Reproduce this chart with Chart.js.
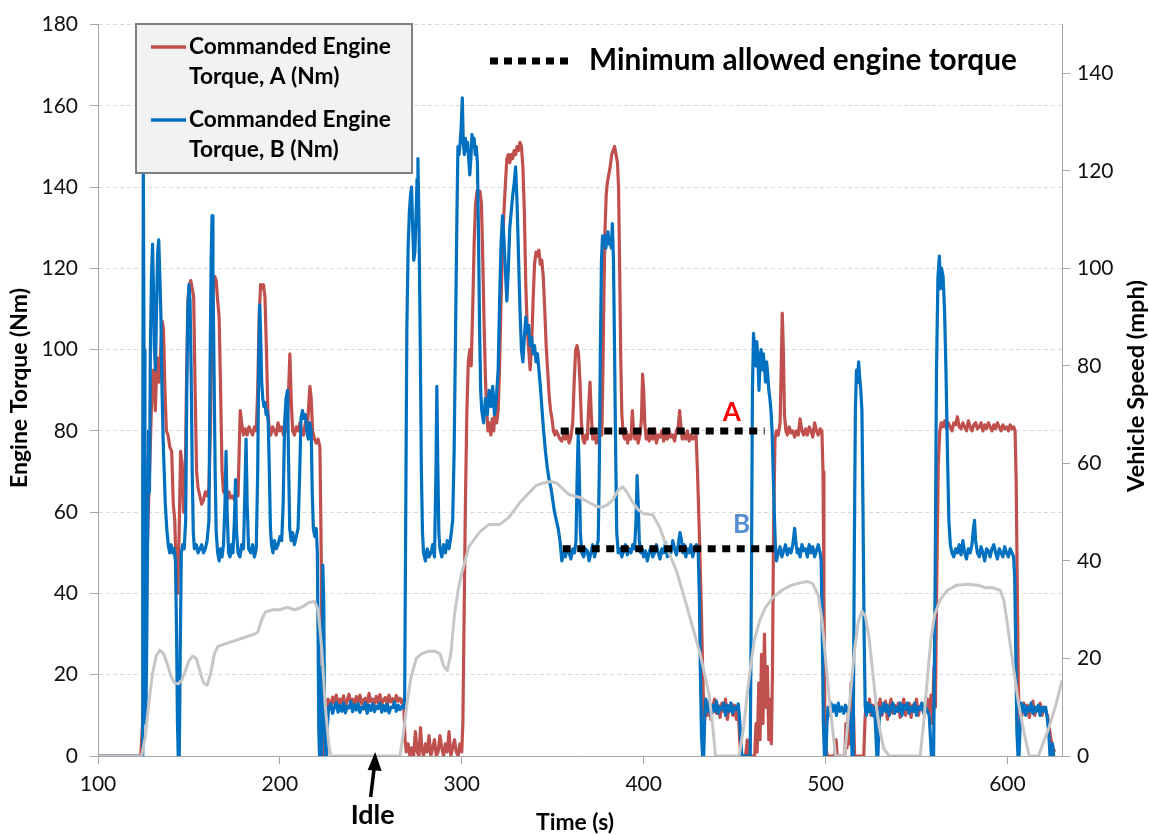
<!DOCTYPE html>
<html>
<head>
<meta charset="utf-8">
<script src="https://cdn.jsdelivr.net/npm/chart.js@4/dist/chart.umd.min.js"></script>
<style>
  html, body { margin: 0; padding: 0; background: #fff; }
  #c { display: block; }
</style>
</head>
<body>
<canvas id="c" width="1149" height="835"></canvas>
<script>
// tick labels
const timeTicks = [100, 200, 300, 400, 500, 600]
const torqueTicks = [0, 20, 40, 60, 80, 100, 120, 140, 160, 180]
const speedTicks = [0, 20, 40, 60, 80, 100, 120, 140]

// Commanded Engine Torque, A (Nm)  [time s, torque]
const torqueA = [[100,0],[123.5,0],[124.5,8],[125.5,25],[126.5,40],[127.5,58],[128.5,72],[129.5,88],[130.5,95],[131.5,85],[132.5,98],[133.5,92],[134.5,100],[135.3,107],[136,105],[136.8,90],[137.6,80],[138.5,79],[139.5,76],[140.5,75],[141.4,62],[142.2,58],[143,45],[143.8,40],[144.6,55],[145.4,75],[146.2,72],[147,60],[147.8,62],[148.6,90],[149.4,112],[150.2,116],[151,117],[151.8,115],[152.6,113],[153.4,90],[154.2,70],[155,66],[156,64],[157,62],[158,63],[159,65],[160,64],[161,66],[161.8,80],[162.6,105],[163.4,116],[164.2,118],[165,117],[165.8,112],[166.6,108],[167.4,90],[168.2,70],[169,65],[170,64.5],[171,63],[172,65],[173,63.5],[174,64],[175,63],[176,65],[177,64],[177.6,75],[178.2,85],[179,82],[180,79],[181,80.5],[182,79],[183,81],[184,80],[185,79],[186,81],[187,80],[187.8,90],[188.6,108],[189.4,116],[190.2,115],[191,116],[191.8,113],[192.6,100],[193.4,85],[194.2,80],[195,79],[196,81],[197,80],[198,79],[199,82],[200,80],[201,81],[202,79],[203,80.5],[204,80],[204.8,90],[205.5,99],[206.2,88],[207,80],[208,79],[209,81],[210,80],[211,82],[212,80],[213,79],[214,82],[215,80],[215.8,86],[216.5,91],[217.2,88],[218,80],[219,78],[220,77],[221,78],[222,76],[222.6,55],[223.2,25],[223.8,5],[224.4,0],[225.2,0],[225.8,8],[226.4,14],
  [227,13.5],[228,12],[229,14.5],[230,13],[231,15],[232,12.5],[233,14],[234,13],[235,14.8],[236,12.2],[237,13.6],[238,15.2],[239,13],[240,14],[241,12.4],[242,14.6],[243,13.2],[244,15],[245,12.8],[246,13.8],[247,14.2],[248,12.6],[249,15.4],[250,13.4],[251,14],[252,12.9],[253,14.7],[254,13.1],[255,15.1],[256,12.7],[257,13.9],[258,14.4],[259,12.5],[260,15],[261,13.3],[262,14.1],[263,12.8],[264,14.9],[265,13.5],[266,14.2],[267,13],[268,14],
  [268.8,4],[269.5,1],[270.5,3],[271.5,0],[272.5,2],[273.5,0],[274.5,6],[275.5,1],[276.5,0],[277.3,7],[278,2],[279,0],[280,3],[281,1],[282,5],[283,0],[284,2],[285,4],[286,0],[287,1],[288,5],[289,2],[290,0],[291,3],[292,1],[293,6],[294,0],[295,2],[296,4],[297,1],[298,0],[299,3],[300,1],
  [300.6,8],[301.3,35],[302,62],[302.8,85],[303.6,97],[304.4,100],[305.2,96],[306,110],[306.8,126],[307.6,136],[308.4,139],[309.2,138],[310,139],[310.8,136],[311.6,121],[312.3,106],[313,93],[313.7,85],[314.4,80],[315.2,82],[316,79],[316.8,83],[317.6,80],[318.4,88],[319.2,82],[320,85],[320.8,96],[321.6,112],[322.4,126],[323.2,134],[324,141],[324.8,147],[325.6,148],[326.4,146],[327.2,148],[328,147],[328.8,149],[329.6,148],[330.4,150],[331.2,149],[332,151],[332.8,150],[333.6,145],[334.4,134],[335.2,116],[336,105],[336.8,100],[337.6,95],[338.4,101],[339.2,112],[340,121],[340.8,124],[341.6,123],[342.4,124.5],[343.2,121],[344,122],[344.8,118],[345.6,110],[346.4,101],[347.2,95],[348,89],[348.8,85],[349.6,83],[350.4,80],[351.2,79],
  [352,80],[353,79],[354,78],[355,77.5],[356,79],[357,78],[358,80],[359,77],[360,78.5],[361,82],[361.8,92],[362.6,100],[363.4,101],[364.2,99],[365,92],[365.8,82],[366.6,78],[367.4,77],[368.2,79],[369,78],[369.8,86],[370.5,92],[371.2,84],[372,78],[373,79.5],[374,77],[375,78.5],[376,80],[377,79],[377.6,95],[378.2,115],[378.8,130],[379.4,138],[380,141],[380.8,143],[381.6,145],[382.4,148],[383.2,149],[384,150],[384.8,148],[385.6,146],[386.2,140],[386.8,120],[387.4,98],[388,84],[388.8,79],[389.6,78],[390.4,80],[391.2,77],[392,79],[393,78],[393.8,85],[394.4,80],[395.2,78],[396,79.5],[397,77],[398,79],[398.8,83],[399.4,94],[400,90],[400.6,82],[401.4,78],[402.2,80],[403,77.5],[404,79],[405,78],[406,80.5],[407,77],[408,79],[409,78.5],[410,80],[411,77.5],[412,79],[413,78],[414,80],[415,78.5],[416,79],[417,77.5],[418,80],[419,81],[419.8,85],[420.5,81],[421.2,78],[422,79.5],[423,78],[424,80],[425,77.5],[426,79],[427,78],[428,78.5],[428.8,79],[429.6,70],[430.6,55],[431.6,38],[432.4,22],[433.2,8],
  [434,12],[435,10],[436,13.5],[437,9],[438,12],[439,14],[440,10.5],[441,12.5],[442,9.5],[443,13],[444,11],[445,14],[446,9],[447,12],[448,13],[449,10],[450,12.5],[451,9],[452,11],[452.8,4],[453.5,0],[456,0],[457,4],[457.6,0],[461,0],[461.8,8],[462.4,1],[463.3,18],[464,4],[464.8,25],[465.6,8],[466.4,30],[467.2,12],[468,22],[468.8,4],[469.6,14],[470.2,3],[470.8,20],[471.4,55],[472.2,78],[473,80],[474,79],[475,82],[475.6,95],[476.2,109],[476.8,100],[477.4,84],[478.2,80],[479,79],[480,81],[481,79.5],[482,80],[483,78.5],[484,80],[485,79],[486,83],[487,80],[488,79],[489,80.5],[490,79],[491,81],[492,80],[493,78.5],[494,82],[495,80],[496,79],[497,80.5],[498,80],[498.6,70],[499.1,40],[499.6,12],[500.2,2],[501,0],[505,0],[505.8,4],[506.4,0],[510.6,0],[511.2,8],[511.8,2],[512.6,12],[513.2,3],[514,18],[514.6,6],[515.4,10],[516,0],[521,0],
  [521.8,10],[522.6,13],[523.4,11],[524.2,14],[525,10],[526,12.5],[527,9.5],[528,13],[529,11],[530,14],[531,10],[532,12],[533,13.5],[534,9],[535,12],[536,14],[537,10.5],[538,12.5],[539,11],[540,13],[541,9.5],[542,12],[543,14],[544,10],[545,12],[546,13],[547,9.5],[548,12.5],[549,11],[550,14],[551,10],[552,12],[553,13],[554,10.5],[555,12],[556,14],[557,11],
  [558,15],[558.8,8],[559.6,22],[560.4,12],[561.2,45],[562,72],[562.8,80],[563.6,82],[564.5,81],[565.5,82.5],[566.5,80.5],[567.5,82],[568.5,81],[569.5,80],[570.5,82],[571.5,81.5],[572.5,83.5],[573.5,81],[574.5,80.5],[575.5,82],[576.5,81],[577.5,80],[578.5,82.5],[579.5,81],[580.5,80],[581.5,81.5],[582.5,82],[583.5,80.5],[584.5,81],[585.5,82],[586.5,80],[587.5,81.5],[588.5,80.5],[589.5,82],[590.5,81],[591.5,80],[592.5,81.5],[593.5,80.5],[594.5,82],[595.5,81],[596.5,80],[597.5,81.5],[598.5,80.5],[599.5,81],[600.5,80],[601.5,81.5],[602.5,80.5],[603.5,81],[604.2,80],[604.8,68],[605.4,42],[606,18],[606.6,6],[607.2,12],[608,10],[609,13],[610,11],[611,12.5],[612,9.5],[613,12],[614,13.5],[615,10],[616,12],[617,11.5],[618,13],[619,10],[620,12],[621,11],[622,10],[623,7],[624,4],[625,2],[626,1]]

// Commanded Engine Torque, B (Nm)  [time s, torque]
const torqueB = [[100,0],[124.2,0],[124.6,70],[124.9,145],[125.3,100],[125.8,35],[126.3,8],[126.8,28],[127.3,55],[127.8,80],[128.3,65],[128.8,100],[129.4,118],[130,126],[130.5,115],[131,100],[131.6,95],[132.2,110],[132.8,124],[133.4,127],[134,118],[134.6,108],[135.2,90],[135.8,78],[136.4,70],[137,62],[137.8,56],[138.6,52],[139.4,50],[140.2,52],[141,50],[141.8,51],[142.6,48],[143.2,30],[143.7,8],[144.1,0],[144.7,0],[145.2,25],[145.8,50],[146.6,52],[147.4,51],[148.2,58],[148.8,90],[149.4,110],[150,116],[150.6,112],[151.2,95],[151.8,70],[152.4,55],[153,51],[154,52],[155,50],[156,51],[157,52],[158,50],[159,51],[160,53],[161,58],[161.6,95],[162.2,122],[162.7,133],[163.2,120],[163.8,95],[164.4,70],[165,55],[165.8,50],[166.6,48],[167.4,51],[168.2,49],[169,52],[169.8,62],[170.4,75],[171,60],[171.8,50],[172.6,49],[173.4,52],[174.2,50],[175,58],[175.6,68],[176.2,55],[177,50],[178,49],[179,52],[180,51],[180.8,66],[181.4,78],[182,62],[182.8,51],[184,50],[185,52],[186,49],[187,51],[187.8,70],[188.4,98],[188.9,111],[189.4,104],[190,92],[190.6,88],[191.2,86],[191.8,87],[192.4,84],[193,85],[193.6,82],[194.2,70],[194.8,56],[195.4,52],[196.2,50],[197,53],[198,51],[199,52],[200,54],[201,53],[201.8,62],[202.6,82],[203.4,88],[204.2,90],[204.8,72],[205.4,56],[206.2,53],[207,55],[208,52],[209,54],[210,56],[210.8,68],[211.6,83],[212.4,85],[213.2,83],[214,84],[214.8,80],[215.6,78],[216.4,82],[217.2,80],[217.8,65],[218.4,56],[219.2,54],[220,56],[220.6,50],[221,30],[221.4,6],[221.8,0],[222.8,0],[223.2,22],[223.6,47],[224.1,38],[224.6,8],[225.1,0],[225.7,0],[226.2,8],[226.8,12],
  [227,11.5],[228,12.8],[229,10.5],[230,12],[231,13.2],[232,10.8],[233,12.4],[234,11],[235,13],[236,10.6],[237,12.2],[238,11.8],[239,13.4],[240,10.9],[241,12.6],[242,11.3],[243,12.9],[244,10.7],[245,12.1],[246,11.6],[247,13.1],[248,10.5],[249,12.5],[250,11.2],[251,12.8],[252,10.9],[253,12.3],[254,11.7],[255,13],[256,10.8],[257,12.4],[258,11.1],[259,12.7],[260,10.6],[261,12],[262,11.9],[263,13.3],[264,11],[265,12.5],[266,11.4],[267,12.2],[268,11.8],
  [268.6,14],[269.2,60],[269.8,105],[270.5,125],[271.2,134],[271.8,138],[272.4,140],[273,130],[273.6,122],[274.2,124],[274.8,132],[275.4,142],[275.9,147],[276.5,130],[277.2,100],[277.8,70],[278.4,55],[279,50],[280,48],[281,51],[282,49],[283,50],[284,52],[285,49],[285.8,70],[286.3,91],[286.8,72],[287.4,55],[288,51],[289,49],[290,52],[291,50],[292,53],[293,51],[294,54],[295,58],[295.8,75],[296.6,105],[297.3,132],[297.9,150],[298.5,148],[299.1,151],[299.7,155],[300.3,162],[300.8,151],[301.4,148],[302,152],[302.6,149],[303.2,151],[303.8,147],[304.4,143],[305,147],[305.6,153],[306.2,150],[306.8,152],[307.4,148],[308,150],[308.6,146],[309.2,128],[309.8,105],[310.4,90],[311,85],[312,82],[313,88],[314,84],[315,90],[316,86],[317,91],[318,84],[319,88],[320,95],[320.8,112],[321.6,126],[322.4,133],[323.2,127],[324,119],[324.8,112],[325.6,120],[326.4,130],[327.2,134],[328,138],[328.8,141],[329.6,145],[330.4,136],[331.2,123],[332,110],[332.8,100],[333.6,97],[334.4,103],[335.2,108],[336,104],[336.8,106],[337.6,101],[338.4,103],[339.2,99],[340,101],[340.8,97],[341.6,99],[342.4,95],[343.2,91],[344,86],[345,80],[346,75],[347,71],[348,68],[349,66],[350,63],[351,60],[352,58],[353,56],[354,53],[355,48],
  [356,50],[357,49],[358,51.5],[359,50],[360,48.5],[361,51],[362,50],[362.8,53],[363.4,68],[364,79],[364.6,70],[365.2,55],[366,50],[367,49],[368,51],[369,50.5],[370,48],[371,50],[372,52],[373,49],[374,51],[375,53],[375.6,70],[376.2,100],[376.8,122],[377.4,128],[378,126],[378.6,128],[379.2,125],[379.8,127],[380.4,129],[381,126],[381.6,127],[382.2,125],[382.8,131],[383.4,122],[384,100],[384.6,75],[385.2,55],[386,50],[387,51],[388,49],[389,50.5],[390,52],[391,49.5],[392,51],[393,50],[394,52],[395,51],[395.8,58],[396.4,69],[397,62],[397.6,53],[398.4,50],[399.2,51],[400,49],[401,50.5],[402,48],[403,50],[404,51.5],[405,49],[406,50],[407,52],[408,50],[409,48.5],[410,51],[411,50],[412,52.5],[413,49],[414,51],[415,50],[416,53],[417,51],[418,49.5],[419,52],[420,55],[420.8,53],[421.6,50],[422.4,52],[423.2,49],[424,51],[425,50],[426,52],[427,49],[428,51],[429,52],[430,50],
  [430.6,40],[431.2,20],[431.8,5],[432.4,0],[433,0],[433.6,10],[434.2,14],[435,11],[436,13],[437,10],[438,12.5],[439,11],[440,13.5],[441,10.5],[442,12],[443,11.5],[444,13],[445,10],[446,12.5],[447,11],[448,13],[449,10.5],[450,12],[451,11.5],[452,12.8],[452.8,9],[453.4,4],[454,0],[458.6,0],[459.2,40],[459.8,90],[460.4,104],[461,100],[461.6,96],[462.2,102],[462.8,98],[463.4,90],[464,97],[464.6,100],[465.2,95],[465.8,99],[466.4,96],[467,92],[467.6,97],[468.2,94],[468.8,90],[469.4,88],[470,85],[470.6,80],[471.2,70],[471.8,60],[472.4,52],[473,48],[474,50],[475,51.5],[476,49],[477,50.5],[478,52],[479,49.5],[480,51],[481,50],[482,52],[483,56],[483.6,53],[484.4,50],[485,51],[486,49],[487,52],[488,50.5],[489,51],[490,49],[491,52],[492,50],[493,51.5],[494,49],[495,50.5],[496,52],[497,50],[497.6,48],[498.2,30],[498.8,8],[499.4,0],[500.2,0],[500.8,8],[501.4,12],[502.2,10],[503,13],[504,11],[505,12.5],[506,10],[507,13],[508,11],[509,12],[510,10.5],[511,12.5],[512,11],[513,12],[514,8],[514.6,0],[515.2,0],[515.8,50],[516.4,85],[517,95],[517.6,92],[518.2,97],[518.8,93],[519.4,90],[520,85],[520.6,60],[521.2,30],[521.8,12],[522.5,10],[523.3,13],[524,11],[525,12.5],[526,10],[527,12],[527.6,6],[528.2,0],[528.8,0],[529.4,8],[530,12],[531,10.5],[532,13],[533,11],[534,12.5],[535,10],[536,12],[537,13],[538,10.5],[539,12],[540,11],[541,13],[542,10],[543,12.5],[544,11.5],[545,13],[546,10.5],[547,12],[548,11],[549,13],[550,10],[551,12],[552,11.5],[553,13],[554,10.5],[555,12],[556,11],[557,10],[557.6,5],[558.2,0],[559.4,0],
  [560.2,40],[561,95],[561.8,118],[562.6,123],[563.2,115],[563.8,120],[564.6,118],[565.4,110],[566.2,95],[567,75],[567.8,58],[568.6,52],[569.5,50],[570.5,49],[571.5,51],[572.5,50],[573.5,52],[574.5,49.5],[575.5,53],[576.5,50],[577.5,48.5],[578.5,51],[579.5,50],[580.5,52],[581.3,56],[581.9,58],[582.5,53],[583.5,50],[584.5,49],[585.5,51.5],[586.5,50],[587.5,48],[588.5,51],[589.5,50.5],[590.5,49],[591.5,51],[592.5,52],[593.5,50],[594.5,48.5],[595.5,51],[596.5,50],[597.5,49],[598.5,51.5],[599.5,50],[600.5,49],[601.5,51],[602.5,50],[603.4,49],[604,44],[604.6,25],[605.2,6],[605.8,0],[606.4,0],[607,8],[607.6,13],[608.4,11],[609.2,12.5],[610,10],[611,12],[612,11],[613,13],[614,10.5],[615,12],[616,11],[617,12.5],[618,10],[619,12],[620,11],[621,12],[622,9],[622.8,5],[623.4,0],[624.2,0],[624.8,3],[625.4,0],[626,0]]

// Vehicle Speed (mph)  [time s, mph]
const vehicleSpeed = [[100,0],[124,0],[126,4],[128,11],[130,17],[132,20.5],[134,21.7],[136,21],[138,19],[140,16.5],[142,15],[144,14.8],[146,15.5],[148,17.5],[150,19.5],[152,20.5],[154,20],[156,17.5],[158,15],[160,14.5],[162,17],[164,21],[166,22.5],[170,23],[174,23.5],[178,24],[182,24.5],[186,25],[188,25.5],[190,28],[192,29.5],[196,30],[200,30],[204,30.5],[208,30],[212,30.5],[216,31.5],[219,31.7],[221,30],[223,22],[225,10],[227,2],[228,0],
  [266,0],[268,5],[270,11],[272,16],[275,20],[278,21],[282,21.5],[285,21.5],[288,21],[290,18.5],[292,17.5],[294,21],[296,29],[298,34],[300,37.5],[304,43],[310,46],[315,47.5],[321,47.5],[326,49],[332,52],[337,54],[341,55.5],[345,56],[349,56.3],[352,56],[355,55],[359,53.6],[365,53],[370,52],[374,51.2],[377,51],[380,51.5],[383,52.5],[386,54.5],[388.5,55.2],[391,54],[394,52],[397,50.5],[400,49.7],[405,49.5],[409,46.7],[413,42.5],[418,38],[422,33],[425,29],[428,25],[431,21],[434,16],[436,12.5],[438,6],[439.5,0],
  [452.5,0],[455,6],[457,13],[459,19],[461,24],[464,28],[467,30.5],[471,32.5],[476,34],[481,35],[486,35.5],[490,35.8],[493,35.3],[496,33],[498,28],[500,20],[502,12],[504,5],[505.5,0],[510.5,0],[512,6],[514,14],[516,22],[518,27.5],[520,29.7],[522,28.5],[524,24],[526,17],[528,10],[530,5],[532,1.5],[535,0],
  [552,0],[554,7],[556,16],[558,24],[560,29],[563,32],[567,34],[572,35],[578,35.2],[584,35],[588,34.5],[592,34.5],[596,34],[598,32],[600,27],[603,19],[606,11],[609,5],[612,0],[617,0],[620,3],[623,6],[627,11],[630,15.5]]

// Minimum allowed engine torque
const minTorqueA = [[354.4,80],[466.5,80]]
const minTorqueB = [[355.5,51],[472.5,51]]

const toXY = arr => arr.map(p => ({ x: p[0], y: p[1] }))

const tickFont = { family: 'Lato', size: 21 }
const axisGray = '#A6A6A6'

const fitSize = (ctx, text, weight, family, width) => {
    ctx.font = `${weight} 100px ${family}`
    return 100 * width / ctx.measureText(text).width
}

const decorPlugin = {
    id: 'decor',
    afterDraw(chart) {
        const ctx = chart.ctx
        const xs = chart.scales.x
        const ys = chart.scales.y
        const bold = 'bold'
        const fam = 'Lato'

        ctx.save()
        // legend box
        ctx.fillStyle = '#F2F2F2'
        ctx.fillRect(136, 24, 276, 149)
        ctx.strokeStyle = '#7F7F7F'
        ctx.lineWidth = 2
        ctx.strokeRect(136, 24, 276, 149)

        const lsize = fitSize(ctx, 'Commanded Engine', bold, fam, 202)
        ctx.font = `${bold} ${lsize}px ${fam}`
        ctx.textBaseline = 'middle'
        ctx.textAlign = 'left'
        ctx.fillStyle = '#000'
        ctx.lineWidth = 3.5
        ctx.strokeStyle = '#C0504D'
        ctx.beginPath(); ctx.moveTo(151, 47); ctx.lineTo(186, 47); ctx.stroke()
        ctx.fillText('Commanded Engine', 189, 47)
        ctx.fillText('Torque, A (Nm)', 189, 77)
        ctx.strokeStyle = '#0070C0'
        ctx.beginPath(); ctx.moveTo(151, 120); ctx.lineTo(186, 120); ctx.stroke()
        ctx.fillText('Commanded Engine', 189, 120)
        ctx.fillText('Torque, B (Nm)', 189, 150)

        // dotted legend
        ctx.strokeStyle = '#000'
        ctx.lineWidth = 7
        ctx.lineCap = 'butt'
        ctx.setLineDash([8, 6])
        ctx.beginPath(); ctx.moveTo(490, 61); ctx.lineTo(570, 61); ctx.stroke()
        ctx.setLineDash([])
        const msize = fitSize(ctx, 'Minimum allowed engine torque', bold, fam, 428)
        ctx.font = `${bold} ${msize}px ${fam}`
        ctx.fillText('Minimum allowed engine torque', 589, 60)

        // A / B labels
        ctx.textAlign = 'center'
        ctx.font = `${bold} 26px ${fam}`
        ctx.fillStyle = '#FF0000'
        ctx.fillText('A', xs.getPixelForValue(448.4), ys.getPixelForValue(84.6))
        ctx.fillStyle = '#558ED5'
        ctx.fillText('B', xs.getPixelForValue(453.8), ys.getPixelForValue(57))

        // Idle arrow
        const xi = xs.getPixelForValue(251)
        const y0 = ys.getPixelForValue(0)
        ctx.fillStyle = '#000'
        ctx.strokeStyle = '#000'
        ctx.lineWidth = 3.5
        ctx.beginPath(); ctx.moveTo(xi - 2, y0 + 41); ctx.lineTo(xi + 1.5, y0 + 12); ctx.stroke()
        ctx.beginPath()
        ctx.moveTo(xi + 2.5, y0 - 4)
        ctx.lineTo(xi + 9, y0 + 15)
        ctx.lineTo(xi - 5, y0 + 14)
        ctx.closePath(); ctx.fill()
        const isize = fitSize(ctx, 'Idle', bold, fam, 44)
        ctx.font = `${bold} ${isize}px ${fam}`
        ctx.fillText('Idle', xi, y0 + 59)

        // axis titles
        const tsize = fitSize(ctx, 'Time (s)', bold, fam, 78)
        ctx.font = `${bold} ${tsize}px ${fam}`
        ctx.fillText('Time (s)', 575, 823)

        const esize = fitSize(ctx, 'Engine Torque (Nm)', bold, fam, 200)
        ctx.font = `${bold} ${esize}px ${fam}`
        ctx.save()
        ctx.translate(20, 388)
        ctx.rotate(-Math.PI / 2)
        ctx.fillText('Engine Torque (Nm)', 0, 0)
        ctx.restore()

        const vsize = fitSize(ctx, 'Vehicle Speed (mph)', bold, fam, 212)
        ctx.font = `${bold} ${vsize}px ${fam}`
        ctx.save()
        ctx.translate(1136, 386)
        ctx.rotate(-Math.PI / 2)
        ctx.fillText('Vehicle Speed (mph)', 0, 0)
        ctx.restore()

        ctx.restore()
    }
}

new Chart(document.getElementById('c'), {
    type: 'line',
    data: {
        datasets: [
            { label: 'minA', data: toXY(minTorqueA), yAxisID: 'y', borderColor: '#000', borderWidth: 7, borderDash: [8, 6.5], borderCapStyle: 'butt', order: -1 },
            { label: 'minB', data: toXY(minTorqueB), yAxisID: 'y', borderColor: '#000', borderWidth: 7, borderDash: [8, 6.5], borderCapStyle: 'butt', order: -1 },
            { label: 'Vehicle Speed (mph)', data: toXY(vehicleSpeed), yAxisID: 'y2', borderColor: '#C6C6C6', borderWidth: 3, order: 0 },
            { label: 'Commanded Engine Torque, B (Nm)', data: toXY(torqueB), yAxisID: 'y', borderColor: '#0070C0', borderWidth: 3.2, order: 1 },
            { label: 'Commanded Engine Torque, A (Nm)', data: toXY(torqueA), yAxisID: 'y', borderColor: '#C0504D', borderWidth: 3.2, order: 2 }
        ]
    },
    options: {
        responsive: false,
        animation: false,
        devicePixelRatio: 1,
        parsing: false,
        elements: {
            point: { radius: 0 },
            line: { tension: 0, borderJoinStyle: 'round', fill: false }
        },
        layout: { padding: { top: 20, left: 0, right: 0, bottom: 0 } },
        plugins: { legend: { display: false }, tooltip: { enabled: false } },
        scales: {
            x: {
                type: 'linear', min: 100, max: 630,
                afterBuildTicks: s => { s.ticks = timeTicks.map(v => ({ value: v })) },
                afterFit: s => { s.height = 79 },
                grid: { drawOnChartArea: false, drawTicks: true, tickLength: 8, tickColor: axisGray },
                border: { color: axisGray, width: 1 },
                ticks: { font: tickFont, color: '#111', padding: 8, maxRotation: 0, autoSkip: false }
            },
            y: {
                position: 'left', min: 0, max: 180,
                afterBuildTicks: s => { s.ticks = torqueTicks.map(v => ({ value: v })) },
                afterFit: s => { s.width = 98 },
                grid: { color: '#D9D9D9', lineWidth: 1, tickLength: 8, tickColor: axisGray },
                border: { color: axisGray, width: 1, dash: [4, 3] },
                ticks: { font: tickFont, color: '#111', padding: 12 }
            },
            y2: {
                position: 'right', min: 0, max: 150,
                afterBuildTicks: s => { s.ticks = speedTicks.map(v => ({ value: v })) },
                afterFit: s => { s.width = 87 },
                grid: { drawOnChartArea: false, tickLength: 8, tickColor: axisGray },
                border: { color: axisGray, width: 1 },
                ticks: { font: tickFont, color: '#111', padding: 7 }
            }
        }
    },
    plugins: [decorPlugin]
})
</script>
</body>
</html>
